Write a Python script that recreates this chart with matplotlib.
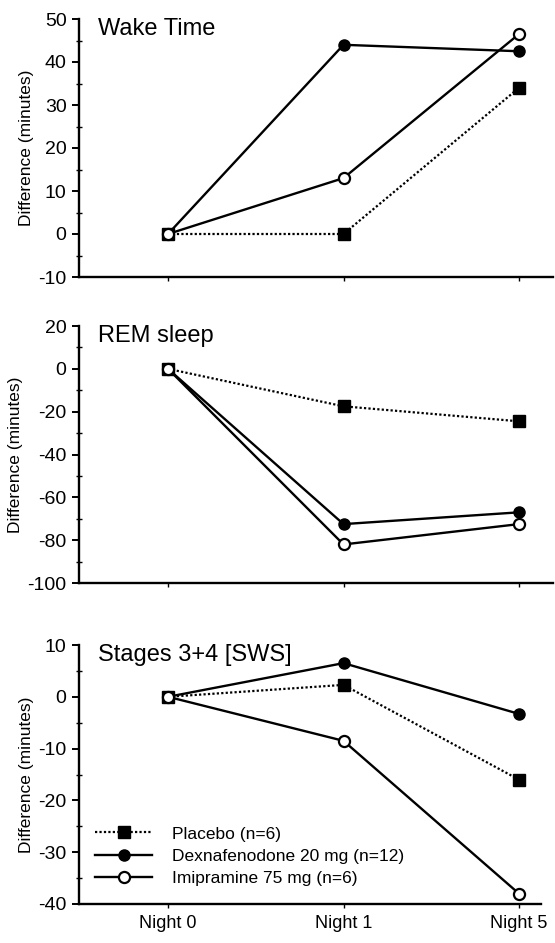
import matplotlib
matplotlib.use('Agg')
import matplotlib.pyplot as plt
from matplotlib.ticker import MultipleLocator
from matplotlib.transforms import ScaledTranslation

plt.rcParams['font.family'] = ['Liberation Sans', 'DejaVu Sans']
plt.rcParams['axes.unicode_minus'] = False

nights = ['Night 0', 'Night 1', 'Night 5']

# Wake Time
wake_placebo = [0, 0, 34]
wake_dex = [0, 44, 42.5]
wake_imi = [0, 13, 46.5]

# REM sleep
rem_placebo = [0, -17.5, -24.5]
rem_dex = [0, -72.5, -67]
rem_imi = [0, -82, -72.5]

# Stages 3+4 [SWS]
sws_placebo = [0, 2.3, -16]
sws_dex = [0, 6.5, -3.3]
sws_imi = [0, -8.5, -38]

titles = ['Wake Time', 'REM sleep', 'Stages 3+4 [SWS]']
ylims = [(-10, 50), (-100, 20), (-40, 10)]
ymajor = [10, 20, 10]
labels = ['Placebo (n=6)', 'Dexnafenodone 20 mg (n=12)', 'Imipramine 75 mg (n=6)']

panels = [(wake_placebo, wake_dex, wake_imi),
          (rem_placebo, rem_dex, rem_imi),
          (sws_placebo, sws_dex, sws_imi)]

# axes boxes in pixels: top, bottom, right end of x axis
boxes = [(19, 277, 553), (326, 583, 553), (645, 904, 541)]
W, H = 555, 943
left = 79
x0, x2 = 168, 519   # pixel position of Night 0 and Night 5

fig = plt.figure(figsize=(W / 100, H / 100), dpi=100)
x = list(range(len(nights)))

for i, (pl, dx, im) in enumerate(panels):
    top, bot, right = boxes[i]
    ax = fig.add_axes([left / W, (H - bot) / H, (right - left) / W, (bot - top) / H])
    ax.plot(x, pl, color='black', lw=1.6, linestyle=(0, (1, 1)), marker='s',
            ms=9, mfc='black', mec='black', label=labels[0], zorder=3)
    ax.plot(x, dx, color='black', lw=1.7, marker='o', ms=8, mfc='black',
            mec='black', label=labels[1], zorder=4)
    ax.plot(x, im, color='black', lw=1.7, marker='o', ms=8, mfc='white',
            mec='black', mew=1.6, label=labels[2], zorder=5)

    ppu = (x2 - x0) / 2
    ax.set_xlim((left - x0) / ppu, (right - x0) / ppu)
    ax.set_ylim(*ylims[i])
    ax.yaxis.set_major_locator(MultipleLocator(ymajor[i]))
    ax.yaxis.set_minor_locator(MultipleLocator(ymajor[i] / 2))
    ax.set_xticks(x)
    if i == 2:
        ax.set_xticklabels(nights, fontsize=13)
        for lab in ax.get_xticklabels():
            lab.set_transform(lab.get_transform() +
                              ScaledTranslation(0.05, 0, fig.dpi_scale_trans))
    else:
        ax.set_xticklabels([])
    for s in ['top', 'right']:
        ax.spines[s].set_visible(False)
    for s in ['left', 'bottom']:
        ax.spines[s].set_linewidth(1.7)
    ax.tick_params(axis='y', which='major', direction='out', length=5, width=1.4,
                   labelsize=14, pad=4)
    ax.tick_params(axis='y', which='minor', direction='inout', length=4, width=1.0)
    ax.tick_params(axis='x', which='major', direction='out', length=3, width=1.0,
                   pad=5)
    ax.set_ylabel('Difference (minutes)', fontsize=12.5, labelpad=3)
    ax.text(0.04 * 471 / (right - left), 1.005, titles[i], transform=ax.transAxes,
            fontsize=17, va='top', ha='left')

    if i == 2:
        ax.legend(loc='center left', bbox_to_anchor=(16 / (right - left), 0.185),
                  frameon=False, fontsize=12.5, handlelength=3.3,
                  handletextpad=1.15, labelspacing=0.4, borderaxespad=0,
                  borderpad=0)

fig.savefig('out.png', dpi=100)
